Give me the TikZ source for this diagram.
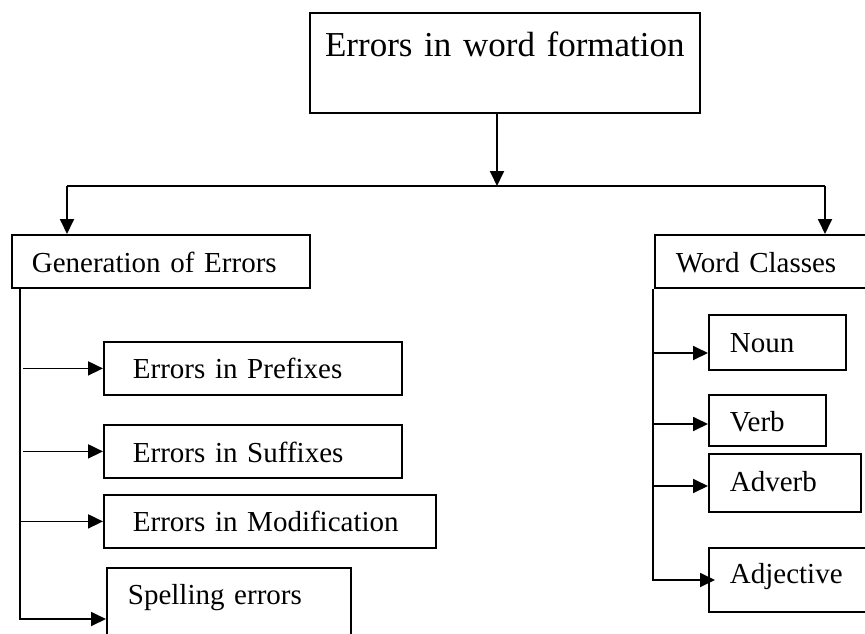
\documentclass[tikz,border=0pt]{standalone}
\usepackage{fontspec}
\setmainfont{Liberation Serif}
\usetikzlibrary{arrows.meta}
\begin{document}
\begin{tikzpicture}[x=1pt,y=-1pt,line width=1.8pt,
  box/.style={draw, line width=1.8pt, inner ysep=0pt, anchor=north west, align=left, font=\fontsize{29}{34}\selectfont},
  arr/.style={-{Triangle[length=15pt,width=14pt]}, line width=1.8pt}]
\clip (0,0) rectangle (865,633);
% boxes
\node[box, inner xsep=10pt, text width=370pt, align=center, text height=44pt, text depth=56pt, font=\fontsize{35}{40}\selectfont] (title) at (309,12) {Errors in word formation};
\node[box, inner xsep=20pt, text width=258pt, text height=38pt, text depth=15pt] (gen) at (11,234) {Generation of Errors};
\node[box, inner xsep=21pt, text width=204pt, text height=38pt, text depth=15pt] (wc) at (654,234) {Word Classes};
\node[box, inner xsep=29pt, text width=240pt, text height=37pt, text depth=16pt] (pre) at (103,341) {Errors in Prefixes};
\node[box, inner xsep=29pt, text width=240pt, text height=38pt, text depth=15pt] (suf) at (103,424) {Errors in Suffixes};
\node[box, inner xsep=29pt, text width=274pt, text height=37pt, text depth=16pt] (mod) at (103,494) {Errors in Modification};
\node[box, inner xsep=21pt, text width=202pt, text height=37pt, text depth=56pt] (spell) at (106,567) {Spelling errors};
\node[box, inner xsep=21pt, text width=95pt, text height=38pt, text depth=17pt] (noun) at (708,314) {Noun};
\node[box, inner xsep=21pt, text width=75pt, text height=37pt, text depth=14pt] (verb) at (708,394) {Verb};
\node[box, inner xsep=21pt, text width=110pt, text height=38pt, text depth=20pt] (adverb) at (708,453) {Adverb};
\node[box, inner xsep=21pt, text width=158pt, text height=36pt, text depth=28pt] (adj) at (708,547) {Adjective};
% coordinates
\coordinate (jn) at (497,186);
\coordinate (jl) at (67,186);
\coordinate (jr) at (825,186);
\coordinate (sl) at (20,619);
\coordinate (sl2) at (23,619);
\coordinate (sr) at (653,580);
\coordinate (rn) at (653,353);
\coordinate (rv) at (653,424);
\coordinate (ra) at (653,486);
\coordinate (adjtip) at (715,580);
% connectors
\draw[arr] (title.south -| jn) -- (jn);
\draw (jl) -- (jr);
\draw[arr] (jl) -- (jl |- gen.north);
\draw[arr] (jr) -- (jr |- wc.north);
\draw[arr] (sl |- gen.south) -- (sl) -- (sl -| spell.west);
\draw[arr] (sl2 |- pre.west) -- (pre.west);
\draw[arr] (sl2 |- suf.west) -- (suf.west);
\draw[arr] (sl |- mod.west) -- (mod.west);
\draw[arr] (sr |- wc.south) -- (sr) -- (adjtip);
\draw[arr] (rn) -- (rn -| noun.west);
\draw[arr] (rv) -- (rv -| verb.west);
\draw[arr] (ra) -- (ra -| adverb.west);
\end{tikzpicture}
\end{document}
